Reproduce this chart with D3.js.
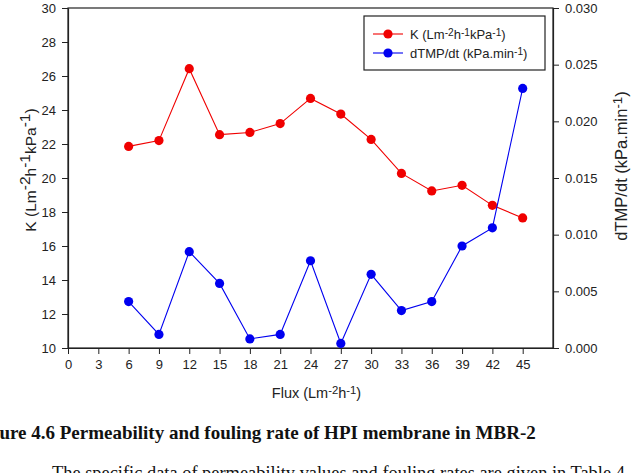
<!DOCTYPE html>
<html lang="en">
<head>
    <meta charset="UTF-8">
    <title>Permeability and fouling rate</title>
    <style>
        body { margin: 0; background: #fff; }
        svg { display: block; }
    </style>
</head>
<body>
    <div id="chart"></div>
    <script src="https://d3js.org/d3.v7.min.js"></script>
    <script>
        // values
        const flux = [6, 9, 12, 15, 18, 21, 24, 27, 30, 33, 36, 39, 42, 45];
        const permeability = [21.86, 22.2, 26.43, 22.55, 22.68, 23.2, 24.68, 23.76, 22.27, 20.27, 19.24, 19.57, 18.39, 17.65];
        const foulingRate = [0.0041, 0.0012, 0.0085, 0.0057, 0.0008, 0.0012, 0.0077, 0.0004, 0.0065, 0.0033, 0.0041, 0.0090, 0.0106, 0.0229];
        const xTicks = [0, 3, 6, 9, 12, 15, 18, 21, 24, 27, 30, 33, 36, 39, 42, 45];
        const leftTicks = [10, 12, 14, 16, 18, 20, 22, 24, 26, 28, 30];
        const rightTicks = [0, 0.005, 0.01, 0.015, 0.02, 0.025, 0.03];

        const W = 636, H = 473;
        const plot = { left: 68, right: 553, top: 8, bottom: 348 };
        const font = "Arial, 'Liberation Sans', sans-serif";
        const serif = "'Liberation Serif', 'Times New Roman', serif";

        const svg = d3.select("#chart").append("svg")
            .attr("width", W)
            .attr("height", H)
            .style("font-family", font);

        const x = d3.scaleLinear().domain([0, 48]).range([plot.left, plot.right]);
        const yL = d3.scaleLinear().domain([10, 30]).range([plot.bottom, plot.top]);
        const yR = d3.scaleLinear().domain([0, 0.03]).range([plot.bottom, plot.top]);

        // frame
        svg.append("rect")
            .attr("x", plot.left).attr("y", plot.top)
            .attr("width", plot.right - plot.left)
            .attr("height", plot.bottom - plot.top)
            .attr("fill", "none").attr("stroke", "#222").attr("stroke-width", 1.2);

        function styleAxis(g) {
            g.selectAll(".domain").attr("stroke", "#222").attr("stroke-width", 1.2);
            g.selectAll(".tick line").attr("stroke", "#222");
            g.selectAll(".tick text").attr("fill", "#222")
                .style("font-size", "13px").style("font-family", font);
        }

        svg.append("g")
            .attr("transform", `translate(0,${plot.bottom})`)
            .call(d3.axisBottom(x).tickValues(xTicks).tickSize(6).tickSizeOuter(0).tickPadding(6))
            .call(styleAxis);

        svg.append("g")
            .attr("transform", `translate(${plot.left},0)`)
            .call(d3.axisLeft(yL).tickValues(leftTicks).tickSize(6).tickSizeOuter(0).tickPadding(6))
            .call(styleAxis);

        svg.append("g")
            .attr("transform", `translate(${plot.right},0)`)
            .call(d3.axisRight(yR).tickValues(rightTicks).tickFormat(d3.format(".3f")).tickSize(6).tickSizeOuter(0).tickPadding(6))
            .call(styleAxis);

        // series
        const series = [
            { vals: permeability, y: yL, color: "#f00000" },
            { vals: foulingRate, y: yR, color: "#0000f0" }
        ];
        series.forEach(s => {
            const pts = flux.map((f, i) => [f, s.vals[i]]);
            svg.append("path")
                .datum(pts)
                .attr("fill", "none")
                .attr("stroke", s.color)
                .attr("stroke-width", 1.1)
                .attr("d", d3.line().x(d => x(d[0])).y(d => s.y(d[1])));
            svg.append("g").selectAll("circle")
                .data(pts)
                .join("circle")
                .attr("cx", d => x(d[0]))
                .attr("cy", d => s.y(d[1]))
                .attr("r", 4.6)
                .attr("fill", s.color);
        });

        // text with superscripts: parts = [[text, isSup], ...]
        function richText(sel, parts, supShift, supSize) {
            parts.forEach(([t, sup]) => {
                const ts = sel.append("tspan").text(t);
                if (sup) ts.attr("baseline-shift", supShift).style("font-size", supSize);
            });
            return sel;
        }

        // legend
        const lg = svg.append("g");
        lg.append("rect")
            .attr("x", 364).attr("y", 16).attr("width", 181).attr("height", 54)
            .attr("fill", "#fff").attr("stroke", "#222").attr("stroke-width", 1.2);
        const legendItems = [
            { color: "#f00000", parts: [["K (Lm", false], ["-2", true], ["h", false], ["-1", true], ["kPa", false], ["-1", true], [")", false]] },
            { color: "#0000f0", parts: [["dTMP/dt (kPa.min", false], ["-1", true], [")", false]] }
        ];
        legendItems.forEach((it, i) => {
            const cy = 34 + i * 19;
            lg.append("line").attr("x1", 373).attr("x2", 403).attr("y1", cy).attr("y2", cy)
                .attr("stroke", it.color).attr("stroke-width", 1.1);
            lg.append("circle").attr("cx", 388).attr("cy", cy).attr("r", 4.6).attr("fill", it.color);
            richText(lg.append("text").attr("x", 410).attr("y", cy + 4.5)
                .attr("fill", "#222").style("font-size", "13px"), it.parts, "35%", "0.78em");
        });

        // axis titles
        richText(svg.append("text")
            .attr("transform", `translate(${x(24) + 6},398)`)
            .attr("text-anchor", "middle").attr("fill", "#222").style("font-size", "14.5px"),
            [["Flux (Lm", false], ["-2", true], ["h", false], ["-1", true], [")", false]], "40%", "0.78em");

        richText(svg.append("text")
            .attr("transform", "translate(36,170) rotate(-90)")
            .attr("text-anchor", "middle").attr("fill", "#222").style("font-size", "15.5px"),
            [["K (Lm", false], ["-2", true], ["h", false], ["-1", true], ["kPa", false], ["-1", true], [")", false]], "40%", "1em");

        richText(svg.append("text")
            .attr("transform", "translate(627,166) rotate(-90)")
            .attr("text-anchor", "middle").attr("fill", "#222").style("font-size", "16.5px"),
            [["dTMP/dt (kPa.min", false], ["-1", true], [")", false]], "40%", "0.8em");

        // page text below the figure
        svg.append("text")
            .attr("x", -27).attr("y", 439)
            .attr("fill", "#111")
            .style("font-family", serif)
            .style("font-weight", "bold").style("font-size", "19px")
            .text("Figure 4.6 Permeability and fouling rate of HPI membrane in MBR-2");

        svg.append("text")
            .attr("x", 52).attr("y", 479)
            .attr("fill", "#111")
            .style("font-family", serif)
            .style("font-size", "18.4px")
            .text("The specific data of permeability values and fouling rates are given in Table 4.");
    </script>
</body>
</html>
